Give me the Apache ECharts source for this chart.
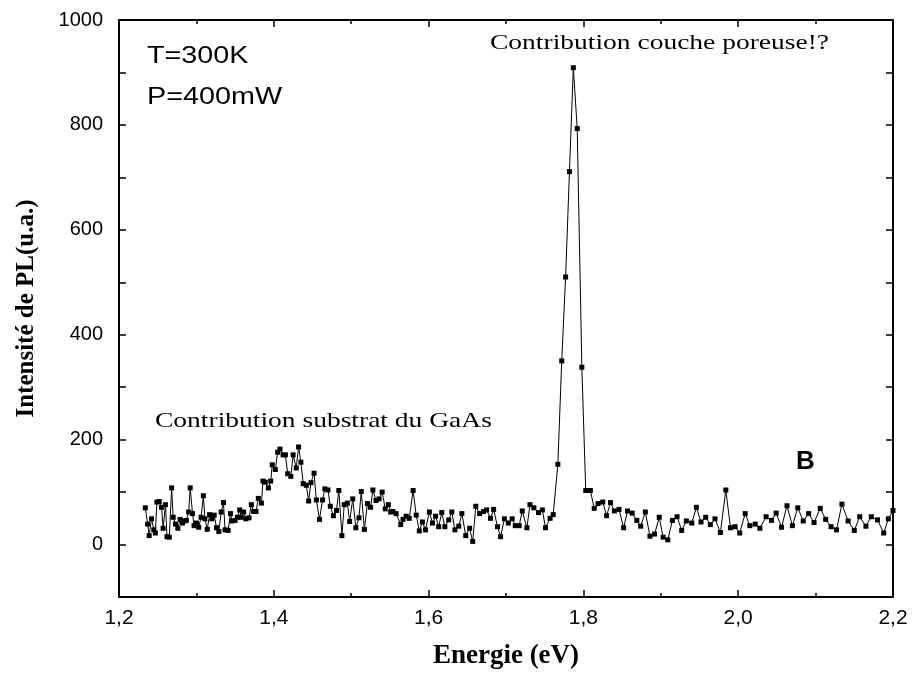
<!DOCTYPE html>
<html><head><meta charset="utf-8">
<script src="https://cdn.jsdelivr.net/npm/echarts@6/dist/echarts.min.js"></script>
<style>html,body{margin:0;padding:0;background:#fff}#c{width:916px;height:679px}</style>
</head><body><div id="c"></div>
<script>
const energy = [
1.234,1.237,1.239,1.242,1.245,1.247,1.249,1.252,1.255,1.257,1.260,1.262,1.265,1.268,1.270,1.273,1.276,1.279,1.282,1.284,1.287,1.290,1.292,1.295,1.297,1.300,1.303,1.306,1.309,1.311,1.314,1.317,1.320,1.323,1.326,1.329,1.332,1.335,1.337,1.341,1.344,1.346,1.350,1.353,1.356,1.358,1.361,1.364,1.368,1.371,1.374,1.377,1.380,1.384,1.386,1.389,
1.393,1.396,1.398,1.402,1.405,1.408,1.412,1.415,1.418,1.422,1.425,1.429,1.432,1.435,1.438,1.442,1.445,1.448,1.452,1.455,1.459,1.463,1.466,1.470,1.473,1.477,1.481,1.484,1.488,1.491,1.495,1.498,1.502,1.506,1.510,1.513,1.517,1.521,1.525,1.528,1.532,1.536,1.540,1.544,1.548,1.551,
1.554,1.558,1.564,1.567,1.571,1.575,1.580,1.584,1.588,1.592,1.596,1.601,1.605,1.609,1.613,1.617,1.621,1.626,1.630,1.634,1.639,1.643,1.648,1.653,1.657,1.661,1.666,1.671,1.675,1.680,1.684,1.689,1.693,1.698,1.703,1.708,1.712,
1.717,1.721,1.727,1.731,1.736,1.742,1.747,1.751,1.757,1.761,1.767,1.772,1.777,1.782,1.787,1.792,1.798,1.803,1.809,1.814,1.819,1.825,1.830,1.835,1.840,1.846,1.852,1.857,1.863,1.869,1.874,
1.880,1.886,1.892,1.898,1.903,1.909,1.915,1.921,1.927,1.933,1.940,1.946,1.952,1.958,1.964,1.970,1.977,1.984,1.990,1.996,2.002,2.009,2.015,2.022,2.028,2.036,
2.043,2.049,2.056,2.063,2.070,2.077,2.084,2.091,2.098,2.106,2.113,2.120,2.127,2.134,2.142,2.150,2.157,2.165,2.172,2.180,2.188,2.194,2.200
];
const intensity = [
70,39,17,49,28,22,81,82,71,31,76,15,14,108,52,39,31,48,41,45,46,62,108,59,36,41,33,52,93,49,29,57,49,56,32,25,62,80,28,27,59,45,46,52,66,52,62,49,51,76,63,63,88,79,121,119,
108,121,152,143,176,182,171,171,135,130,171,146,186,157,116,113,83,118,136,85,48,85,106,104,73,55,65,103,17,76,79,44,87,32,51,101,29,78,71,104,84,87,100,68,76,62,
63,59,38,48,54,50,103,56,26,43,28,62,41,54,34,61,34,47,62,28,35,59,17,31,6,73,59,63,66,50,67,34,15,49,41,49,36,
36,64,32,76,70,61,66,32,50,57,153,350,510,711,909,793,338,103,103,69,78,81,55,80,64,67,32,64,60,46,35,
62,16,20,52,14,9,46,53,27,45,41,71,43,52,38,49,23,104,32,34,22,59,36,39,31,53,
46,60,33,74,36,70,45,59,42,69,48,34,28,77,45,27,53,35,53,47,22,49,65
];
const xTickLabels = ['1,2','1,4','1,6','1,8','2,0','2,2'];
const yTickLabels = ['0','200','400','600','800','1000'];
const xTitle = 'Energie (eV)';
const yTitle = 'Intensité de PL(u.a.)';

const data = energy.map((e,i)=>[e,intensity[i]]);
const chart = echarts.init(document.getElementById('c'));
const axisLine = {show:true, onZero:false, lineStyle:{color:'#000', width:2}};
const tick = {show:true, inside:true, length:7, lineStyle:{color:'#000', width:1.5}};
const mtick = {show:true, splitNumber:2, length:4, lineStyle:{color:'#000', width:1.5}};
const SX = 1.25;
chart.setOption({
  animation:false,
  grid:{left:119, right:23, top:20, bottom:82},
  xAxis:[{
    type:'value', min:1.2, max:2.2, interval:0.2,
    axisLine, axisTick:tick, minorTick:mtick, splitLine:{show:false},
    axisLabel:{color:'#000', fontFamily:'Liberation Sans', fontSize:21, margin:11,
      formatter:(v)=>{const i=Math.round((v-1.2)/0.2); return xTickLabels[i]||'';}},
    name:xTitle, nameLocation:'middle', nameGap:46,
    nameTextStyle:{color:'#000', fontFamily:'Liberation Serif', fontWeight:'bold', fontSize:27}
  },{
    type:'value', position:'top', min:1.2, max:2.2, interval:0.2,
    axisLine, axisTick:tick, minorTick:mtick, splitLine:{show:false}, axisLabel:{show:false}
  }],
  yAxis:[{
    type:'value', min:-100, max:1000, interval:100,
    axisLine, axisTick:tick, splitLine:{show:false},
    axisLabel:{color:'#000', fontFamily:'Liberation Sans', fontSize:20, margin:16,
      formatter:(v)=>{ if (v%200!==0) return ''; return yTickLabels[v/200]||''; }},
    name:yTitle, nameLocation:'middle', nameGap:80, nameRotate:90,
    nameTextStyle:{color:'#000', fontFamily:'Liberation Serif', fontWeight:'bold', fontSize:25}
  },{
    type:'value', position:'right', min:-100, max:1000, interval:100,
    axisLine, axisTick:tick, splitLine:{show:false}, axisLabel:{show:false}
  }],
  series:[{
    type:'line', data, xAxisIndex:0, yAxisIndex:0,
    symbol:'rect', symbolSize:5, showSymbol:true,
    lineStyle:{color:'#000', width:1},
    itemStyle:{color:'#000'}
  }],
  graphic:[
    {type:'text', x:147, y:57, scaleX:SX, style:{text:'T=300K', font:'23px "Liberation Sans"', fill:'#000', verticalAlign:'middle'}},
    {type:'text', x:147, y:98, scaleX:SX, style:{text:'P=400mW', font:'23px "Liberation Sans"', fill:'#000', verticalAlign:'middle'}},
    {type:'text', x:490, y:43, scaleX:SX, style:{text:'Contribution couche poreuse!?', font:'22px "Liberation Serif"', fill:'#000', verticalAlign:'middle'}},
    {type:'text', x:155, y:421, scaleX:SX, style:{text:'Contribution substrat du GaAs', font:'22px "Liberation Serif"', fill:'#000', verticalAlign:'middle'}},
    {type:'text', x:796, y:462, style:{text:'B', font:'bold 26px "Liberation Sans"', fill:'#000', verticalAlign:'middle'}}
  ]
});
</script></body></html>
